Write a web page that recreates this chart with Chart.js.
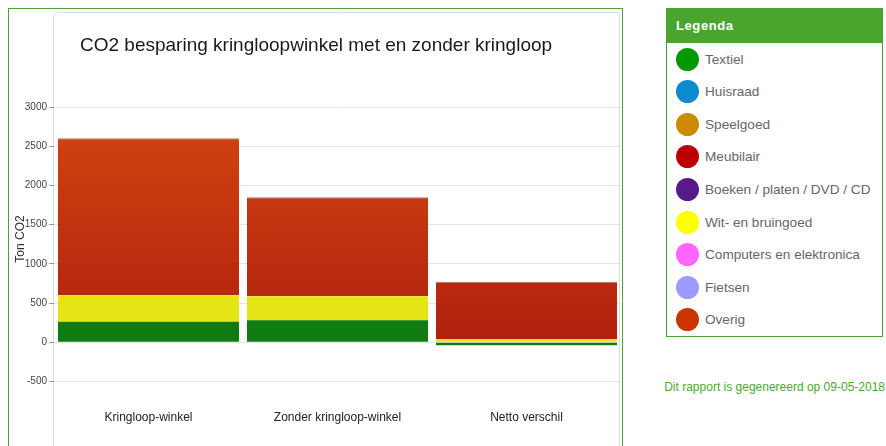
<!DOCTYPE html>
<html>
<head>
<meta charset="utf-8">
<script src="https://cdn.jsdelivr.net/npm/chart.js@4"></script>
<style>
  html, body { margin: 0; padding: 0; background: #fff; }
  body { width: 886px; height: 446px; overflow: hidden; position: relative; font-family: Arial, "Liberation Sans", sans-serif; }
  #chartBox { position: absolute; left: 8px; top: 8px; width: 613px; height: 460px; border: 1px solid #4aa52e; }
  #chartBox canvas { display: block; }
  #legend { position: absolute; left: 666px; top: 8px; width: 215px; height: 327px; border: 1px solid #4aa52e; }
  #legend .head { background: #4aa52e; color: #fff; font-weight: bold; font-size: 13px; letter-spacing: 0.6px; height: 34px; line-height: 34px; padding-left: 9px; }
  #legend .row { position: absolute; left: 9px; height: 24px; display: flex; align-items: center; }
  #legend .dot { width: 23px; height: 23px; border-radius: 50%; margin-right: 6px; }
  #legend .txt { color: #666; font-size: 13.6px; }
  #footer { position: absolute; right: 1px; top: 380px; color: #4caa2a; font-size: 12px; }
</style>
</head>
<body>
<div id="chartBox"><canvas id="co2Chart" width="613" height="437"></canvas></div>
<div id="legend"><div class="head">Legenda</div></div>
<div id="footer">Dit rapport is gegenereerd op 09-05-2018</div>
<script>
const categories = ["Kringloop-winkel", "Zonder kringloop-winkel", "Netto verschil"];
const textiel = [260, 280, -40];
const witBruingoed = [340, 305, 35];
const overig = [2000, 1265, 735];

const legendLabels = ["Textiel", "Huisraad", "Speelgoed", "Meubilair", "Boeken / platen / DVD / CD",
  "Wit- en bruingoed", "Computers en elektronica", "Fietsen", "Overig"];
const legendColors = ["#009a00", "#0a8bcf", "#cc8a00", "#bb0000", "#571a8a",
  "#ffff00", "#ff66ff", "#9c9cff", "#cc3300"];

// html legend
const legendEl = document.getElementById("legend");
legendLabels.forEach((name, i) => {
  const row = document.createElement("div");
  row.className = "row";
  row.style.top = (38 + i * 32.6) + "px";
  row.innerHTML = `<span class="dot" style="background:${legendColors[i]}"></span><span class="txt">${name}</span>`;
  legendEl.appendChild(row);
});

function overigFill(c) {
  const chart = c.chart;
  const y = chart.scales.y;
  if (!chart.chartArea || !y) return "rgba(200,45,0,0.93)";
  const g = chart.ctx.createLinearGradient(0, y.getPixelForValue(y.max), 0, y.getPixelForValue(0));
  g.addColorStop(0, "rgba(210,58,0,0.94)");
  g.addColorStop(1, "rgba(172,18,0,0.94)");
  return g;
}

const panelAndTitles = {
  id: "panelAndTitles",
  beforeDraw(chart) {
    const { ctx, chartArea } = chart;
    ctx.save();
    ctx.strokeStyle = "#dedede";
    ctx.lineWidth = 1;
    ctx.beginPath();
    ctx.moveTo(chartArea.left - 0.5, chart.height);
    ctx.lineTo(chartArea.left - 0.5, 8);
    ctx.quadraticCurveTo(chartArea.left - 0.5, 3.5, chartArea.left + 4, 3.5);
    ctx.lineTo(chartArea.right - 4, 3.5);
    ctx.quadraticCurveTo(chartArea.right - 1.5, 3.5, chartArea.right - 1.5, 8);
    ctx.lineTo(chartArea.right - 1.5, chart.height);
    ctx.stroke();

    ctx.fillStyle = "#1a1a1a";
    ctx.font = "19px Arial, 'Liberation Sans'";
    ctx.textBaseline = "middle";
    ctx.fillText("CO2 besparing kringloopwinkel met en zonder kringloop", chartArea.left + 26, 37);

    ctx.translate(12, 230);
    ctx.rotate(-Math.PI / 2);
    ctx.textAlign = "center";
    ctx.fillStyle = "#333";
    ctx.font = "12px Arial, 'Liberation Sans'";
    ctx.fillText("Ton CO2", 0, 0);
    ctx.restore();
  }
};

new Chart(document.getElementById("co2Chart"), {
  type: "bar",
  data: {
    labels: categories,
    datasets: [
      { label: "Textiel", data: textiel, backgroundColor: "rgba(6,118,6,0.96)" },
      { label: "Wit- en bruingoed", data: witBruingoed, backgroundColor: "rgba(228,228,10,0.95)" },
      { label: "Overig", data: overig, backgroundColor: overigFill,
        borderColor: "rgba(90,30,20,0.6)", borderWidth: { top: 1 }, borderSkipped: "start" }
    ]
  },
  options: {
    responsive: false,
    animation: false,
    layout: { padding: { top: 98, right: 1, left: 0, bottom: 0 } },
    datasets: { bar: { categoryPercentage: 1, barPercentage: 0.958 } },
    plugins: { legend: { display: false }, tooltip: { enabled: false } },
    scales: {
      x: {
        stacked: true,
        grid: { display: false, drawTicks: false },
        border: { display: false },
        ticks: { color: "#222", font: { size: 12, family: "Arial" }, padding: 9 },
        afterFit: s => { s.height = 45; }
      },
      y: {
        stacked: true,
        min: -750,
        max: 3000,
        afterBuildTicks: s => { s.ticks = s.ticks.filter(t => t.value % 500 === 0); },
        grid: { color: "#e4e4e4", tickColor: "#999", tickLength: 5 },
        border: { display: false },
        ticks: { stepSize: 250, color: "#444", font: { size: 10, family: "Arial" }, padding: 2,
          callback: v => String(v) },
        afterFit: s => { s.width = 45; }
      }
    }
  },
  plugins: [panelAndTitles]
});
</script>
</body>
</html>
